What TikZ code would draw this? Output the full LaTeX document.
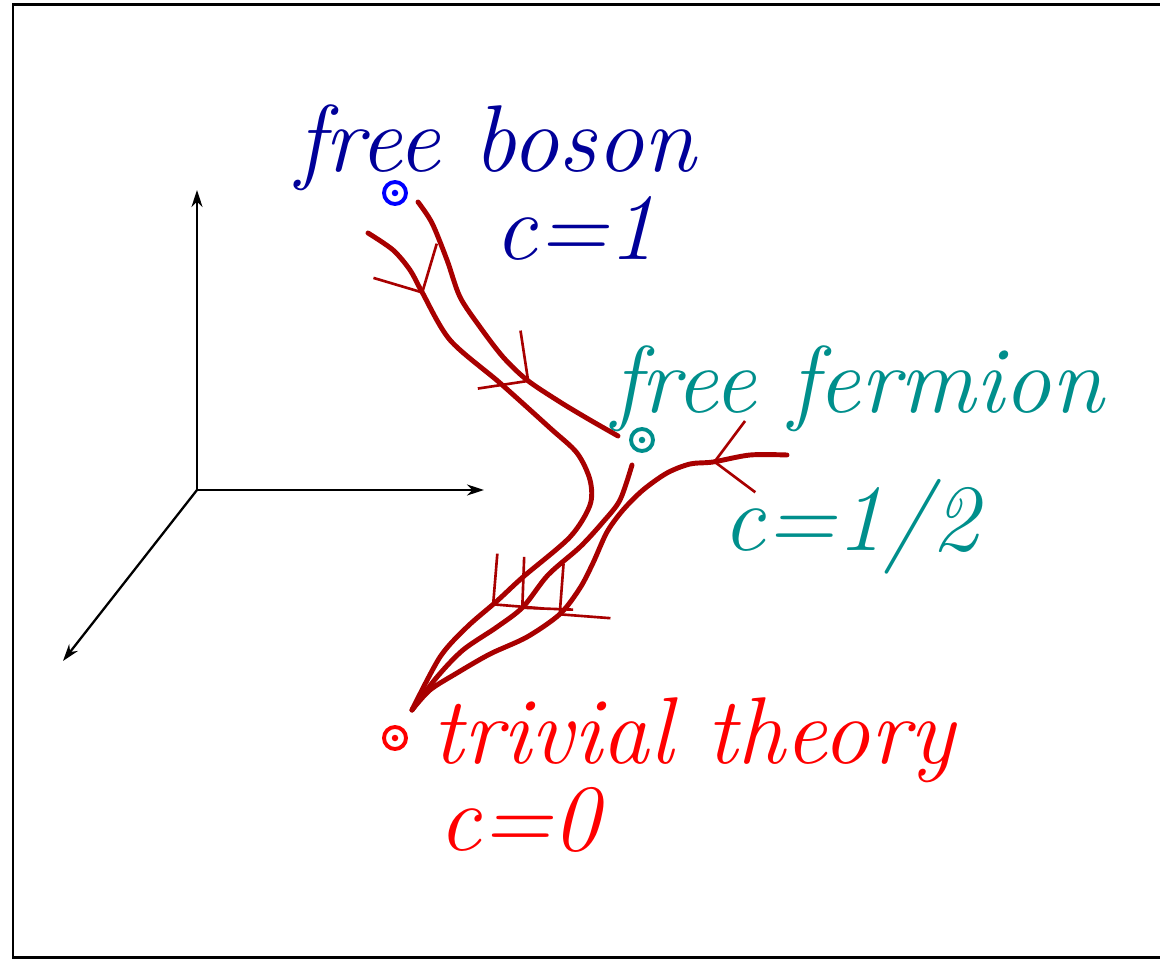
\documentclass[tikz,border=0pt]{standalone}
\usepackage{tikz}
\usetikzlibrary{arrows.meta,decorations.markings}
\definecolor{flowred}{HTML}{A80000}
\definecolor{bosonblue}{HTML}{000099}
\definecolor{fermteal}{HTML}{008F8C}

\begin{document}
\begin{tikzpicture}[x=0.02cm, y=-0.02cm,
  axis/.style={line width=1.3pt, -{Stealth[length=0.34cm,width=0.22cm]}},
  flow/.style={flowred, line width=2.8pt, line cap=round, line join=round},
  flowmark/.style={postaction={decorate, decoration={markings,
      mark=at position #1 with {\arrow{Straight Barb[length=0.72cm,width=1.44cm,line width=1.5pt]}}}}},
  fixpt/.style={circle, draw=#1, line width=2.2pt, minimum size=0.44cm, inner sep=0pt,
      path picture={\fill[#1] (path picture bounding box.center) circle (0.065cm);}},
  tag/.style={font=\fontsize{54}{58}\selectfont\itshape, inner sep=0pt, anchor=base west}]
  \useasboundingbox (0,0) rectangle (1160,959);
  \draw[line width=0.06cm] (13,5) rectangle (1175,957);

  % Achsen
  \coordinate (origin) at (197,490);
  \coordinate (zaxis) at (197,190);
  \coordinate (xaxis) at (484,490);
  \coordinate (yaxis) at (63,661);
  \draw[axis] (origin) -- (zaxis);
  \draw[axis] (origin) -- (xaxis);
  \draw[axis] (origin) -- (yaxis);

  % Fixpunkte
  \node[fixpt=blue] (boson) at (395,193) {};
  \node[fixpt=fermteal] (fermion) at (642,440) {};
  \node[fixpt=red] (trivial) at (395,738) {};

  \node[tag, bosonblue] (bosonname) at (296,172) {free boson};
  \node[tag, bosonblue] (bosonc) at (494,260) {c=1};
  \node[tag, fermteal] (fermname) at (612,413) {free fermion};
  \node[tag, fermteal] (fermc) at (722,550) {c=1/2};
  \node[tag, red] (trivname) at (432,763) {trivial theory};
  \node[tag, red] (trivc) at (438,850) {c=0};

  % RG-Fluss
  \coordinate (bosonA) at (368,233);
  \coordinate (bosonB) at (418,202);
  \coordinate (fermB) at (618,436);
  \coordinate (fermM) at (632,465);
  \coordinate (fermR) at (787,455);
  \coordinate (sink) at (412,710);

  \draw[flow, flowmark=1.68cm, flowmark=10.1cm] plot[smooth, tension=0.5] coordinates {(bosonA) (393,250) (410,270) (422,292) (450,340) (500,383) (550,428) (577,453) (590,480) (590,505) (570,537) (523,577) (497,601) (467,627) (440,657) (sink)};
  \draw[flow, flowmark=4.3cm] plot[smooth, tension=0.5] coordinates {(bosonB) (432,223) (447,260) (460,297) (480,327) (503,357) (527,380) (560,402) (590,420) (fermB)};
  \draw[flow, flowmark=3.7cm] plot[smooth, tension=0.5] coordinates {(fermM) (620,500) (603,522) (580,547) (548,575) (523,607) (497,627) (463,650) (437,677) (sink)};
  \draw[flow, flowmark=1.5cm, flowmark=6.1cm] plot[smooth, tension=0.5] coordinates {(fermR) (750,455) (713,462) (690,464) (667,473) (643,490) (623,510) (607,532) (593,563) (580,588) (560,614) (527,637) (490,654) (457,673) (430,690) (sink)};
\end{tikzpicture}
\end{document}
